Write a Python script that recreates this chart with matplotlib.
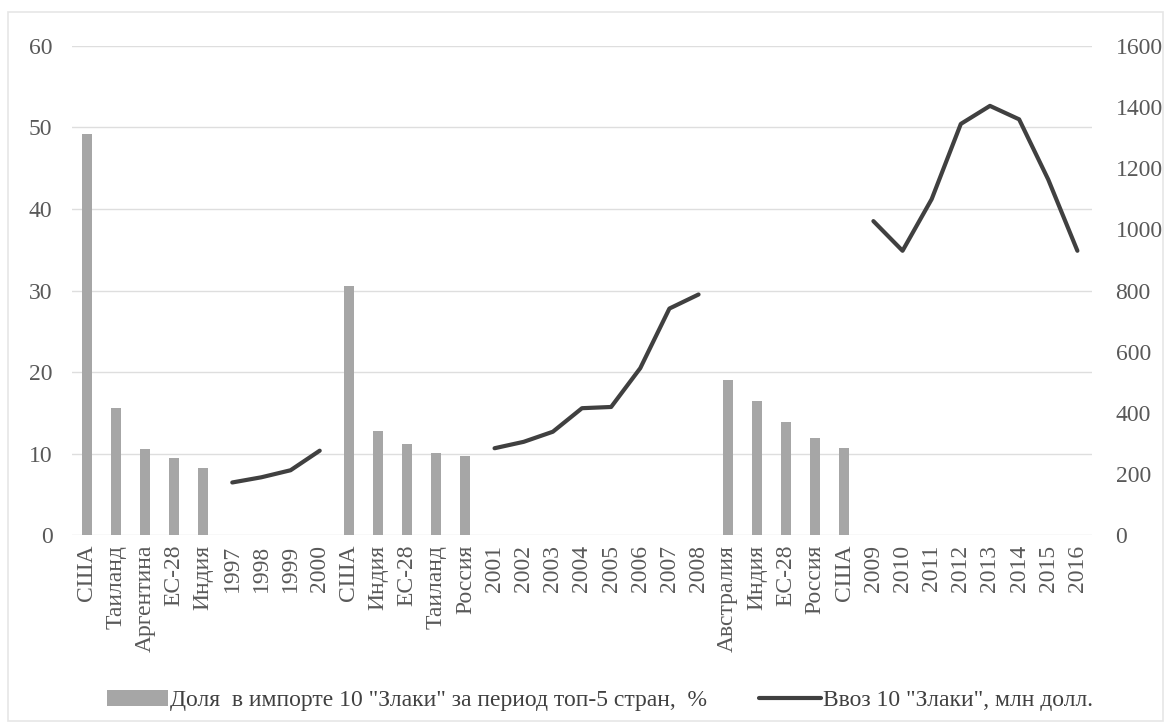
import numpy as np
import matplotlib
matplotlib.use("Agg")
import matplotlib.pyplot as plt
from matplotlib.patches import Rectangle

plt.rcParams['font.family'] = ['Liberation Serif', 'DejaVu Serif']

# categories along the x axis (countries of each period, then the years)
categories = ['США', 'Таиланд', 'Аргентина', 'ЕС-28', 'Индия',
              '1997', '1998', '1999', '2000',
              'США', 'Индия', 'ЕС-28', 'Таиланд', 'Россия',
              '2001', '2002', '2003', '2004', '2005', '2006', '2007', '2008',
              'Австралия', 'Индия', 'ЕС-28', 'Россия', 'США',
              '2009', '2010', '2011', '2012', '2013', '2014', '2015', '2016']

# share in import, % (None where category is a year)
share = [49.2, 15.6, 10.5, 9.5, 8.2,
         None, None, None, None,
         30.6, 12.8, 11.2, 10.1, 9.7,
         None, None, None, None, None, None, None, None,
         19.0, 16.4, 13.9, 11.9, 10.7,
         None, None, None, None, None, None, None, None]

# import value, mln USD (None where category is a country)
imports = [None, None, None, None, None,
           172, 189, 212, 276,
           None, None, None, None, None,
           284, 305, 338, 415, 419, 546, 741, 787,
           None, None, None, None, None,
           1027, 930, 1099, 1345, 1404, 1360, 1163, 930]

bar_label = 'Доля  в импорте 10 "Злаки" за период топ-5 стран,  %'
line_label = 'Ввоз 10 "Злаки", млн долл.'

bar_color = '#a6a6a6'
line_color = '#404040'
text_color = '#595959'

x = np.arange(len(categories))
share_arr = np.array([np.nan if v is None else v for v in share], dtype=float)
imp_arr = np.array([np.nan if v is None else v for v in imports], dtype=float)

fig = plt.figure(figsize=(11.67, 7.25), dpi=100)
fig.patches.append(Rectangle((0.007, 0.005), 0.99, 0.978, transform=fig.transFigure,
                             fill=False, edgecolor='#e6e6e6', linewidth=1.2))

ax = fig.add_axes([0.0617, 0.262, 0.8740, 0.6746])
ax2 = ax.twinx()

bars = ax.bar(x, np.nan_to_num(share_arr), width=0.34, color=bar_color, zorder=2,
              label=bar_label)
line, = ax2.plot(x, imp_arr, color=line_color, linewidth=3.0, solid_capstyle='round',
                 label=line_label, zorder=3)

ax.set_xlim(-0.5, len(categories) - 0.5)
ax.set_ylim(0, 60)
ax2.set_ylim(0, 1600)
ax.set_yticks(np.arange(0, 61, 10))
ax2.set_yticks(np.arange(0, 1601, 200))
ax.grid(axis='y', color='#dedede', linewidth=1.0, zorder=0)
ax.set_axisbelow(True)

ax.set_xticks(x)
ax.set_xticklabels(categories, rotation=90, va='top', ha='center')

for a in (ax, ax2):
    for s in a.spines.values():
        s.set_visible(False)
    a.tick_params(length=0, labelsize=17, colors=text_color)
ax.tick_params(axis='x', pad=7)
ax.tick_params(axis='y', pad=14)
ax2.tick_params(axis='y', pad=17)

ax2.set_zorder(ax.get_zorder() + 1)
ax2.patch.set_visible(False)

fig.legend([bars, line], [bar_label, line_label], loc='center',
           bbox_to_anchor=(0.514, 0.034), ncol=2, frameon=False,
           fontsize=17, labelcolor='#404040', handlelength=2.6,
           handletextpad=0.1, columnspacing=2.2)

fig.savefig('out.png', dpi=100)
